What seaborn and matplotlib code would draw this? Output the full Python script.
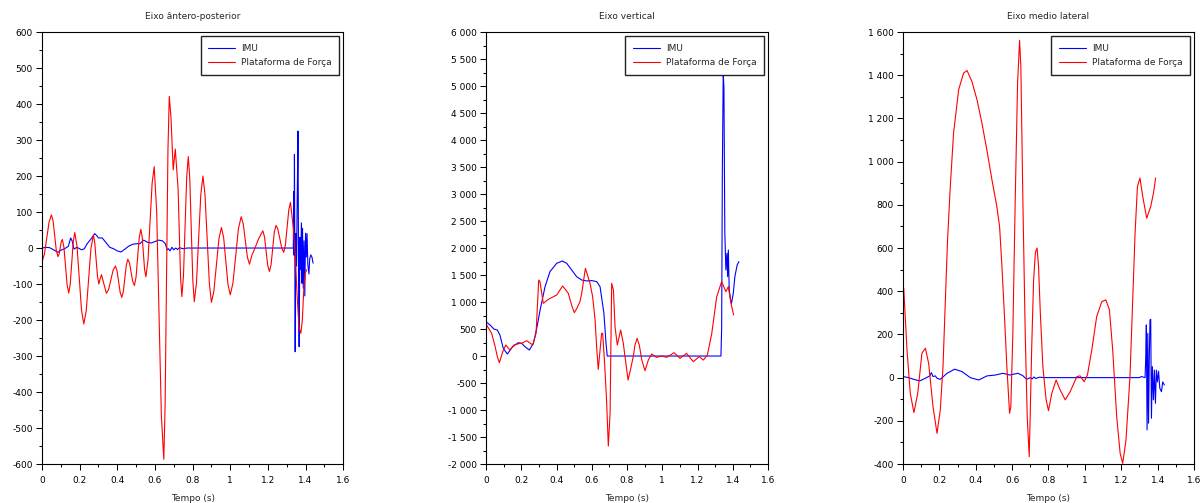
import numpy as np
import pandas as pd
import matplotlib
matplotlib.use("Agg")
import matplotlib.pyplot as plt
from matplotlib.ticker import MultipleLocator, FuncFormatter
import seaborn as sns

# ---------------- data ----------------
titles = ["Eixo ântero-posterior", "Eixo vertical", "Eixo medio lateral"]
series_names = ["IMU", "Plataforma de Força"]
xlabel = "Tempo (s)"

# Eixo antero-posterior
ap_force_t = [0.000, 0.0125, 0.025, 0.0375, 0.050, 0.059, 0.0675, 0.076, 0.085, 0.091, 0.0965, 0.102,
              0.108, 0.1165, 0.125, 0.1335, 0.142, 0.150, 0.158, 0.166, 0.174, 0.186, 0.198, 0.210,
              0.222, 0.235, 0.2475, 0.260, 0.273, 0.280, 0.2875, 0.295, 0.302, 0.309, 0.316, 0.329,
              0.342, 0.354, 0.366, 0.378, 0.390, 0.3985, 0.407, 0.4155, 0.424, 0.432, 0.440, 0.448,
              0.456, 0.465, 0.4735, 0.482, 0.491, 0.4995, 0.508, 0.5165, 0.525, 0.532, 0.5385, 0.545,
              0.552, 0.563, 0.574, 0.585, 0.596, 0.609, 0.6215, 0.634, 0.647, 0.654, 0.6615, 0.669,
              0.676, 0.685, 0.697, 0.708, 0.716, 0.723, 0.7295, 0.736, 0.743, 0.7515, 0.760, 0.7685,
              0.777, 0.785, 0.793, 0.801, 0.809, 0.8205, 0.832, 0.8435, 0.855, 0.866, 0.8775, 0.889,
              0.900, 0.913, 0.9265, 0.940, 0.953, 0.965, 0.9765, 0.988, 1.000, 1.0145, 1.029, 1.0435,
              1.058, 1.069, 1.080, 1.091, 1.102, 1.115, 1.133, 1.150, 1.173, 1.182, 1.1905, 1.199,
              1.208, 1.217, 1.2255, 1.234, 1.243, 1.253, 1.2635, 1.274, 1.284, 1.293, 1.302, 1.311,
              1.320, 1.336, 1.345, 1.355, 1.365, 1.375, 1.383, 1.390, 1.398, 1.407]
ap_force = [-38, -18, 27, 72, 92, 75, 34, -7, -24, -17, 0, 17,
            24, 2, -50, -103, -125, -100, -41, 18, 43, 5, -84, -173,
            -211, -174, -87, -1, 36, 16, -32, -80, -100, -85, -74, -100,
            -126, -115, -88, -61, -50, -63, -93, -124, -137, -121, -84, -47,
            -31, -42, -68, -93, -104, -81, -26, 29, 52, 32, -14, -60,
            -80, -34, 73, 180, 226, 104, -180, -465, -587, -436, -83, 270,
            421, 365, 217, 275, 217, 164, 41, -82, -135, -77, 60, 196,
            254, 194, 53, -89, -149, -97, 26, 148, 200, 147, 25, -98,
            -151, -120, -47, 26, 57, 29, -37, -102, -130, -97, -22, 54,
            87, 67, 21, -25, -45, -20, 2, 25, 48, 31, -8, -48,
            -65, -46, -1, 44, 63, 52, 25, -1, -12, 9, 58, 106,
            127, 50, -20, -130, -220, -237, -200, -120, -70, -60]

ap_imu_t = [0.000, 0.020, 0.040, 0.055, 0.085, 0.100, 0.120, 0.140, 0.152, 0.160, 0.170, 0.185,
            0.200, 0.210, 0.225, 0.240, 0.260, 0.280, 0.290, 0.300, 0.320, 0.340, 0.360, 0.380,
            0.400, 0.420, 0.440, 0.460, 0.480, 0.500, 0.520, 0.540, 0.560, 0.580, 0.600, 0.620,
            0.640, 0.655, 0.665, 0.672, 0.680, 0.690, 0.700, 0.710, 0.720, 0.730, 0.750, 0.770,
            0.850, 1.335, 1.337, 1.339, 1.341, 1.343, 1.345, 1.348, 1.352, 1.356, 1.360, 1.363,
            1.366, 1.370, 1.374, 1.378, 1.381, 1.384, 1.388, 1.392, 1.396, 1.400, 1.404, 1.408,
            1.412, 1.418, 1.422, 1.428, 1.434, 1.440]
ap_imu = [0, 2, 1, -3, -12, -6, -2, 5, 28, 20, -3, 2,
          -2, -5, -2, 12, 25, 40, 35, 28, 28, 15, 2, -2,
          -8, -11, -3, 5, 10, 12, 12, 22, 16, 14, 18, 22,
          20, 12, -5, -2, -8, 2, -5, 0, -4, 1, -2, 0,
          0, 0, 157, -20, 260, -10, -288, 40, -50, 150, 325, -100,
          -274, 30, -60, 70, -98, 55, -112, 20, -133, 41, -25, 40,
          -45, -72, -30, -19, -25, -42]

# Eixo vertical
v_force_t = [0.000, 0.032, 0.050, 0.065, 0.076, 0.095, 0.112, 0.136, 0.159, 0.193, 0.202, 0.231,
             0.265, 0.284, 0.299, 0.306, 0.325, 0.354, 0.401, 0.435, 0.467, 0.485, 0.501, 0.515,
             0.533, 0.543, 0.564, 0.590, 0.605, 0.619, 0.628, 0.637, 0.656, 0.662, 0.673, 0.684,
             0.694, 0.704, 0.713, 0.723, 0.732, 0.745, 0.764, 0.779, 0.806, 0.820, 0.836, 0.845,
             0.857, 0.870, 0.884, 0.902, 0.921, 0.940, 0.968, 0.996, 1.025, 1.067, 1.101, 1.138,
             1.176, 1.210, 1.233, 1.256, 1.281, 1.309, 1.337, 1.361, 1.375, 1.390, 1.405]
v_force = [593, 420, 200, -20, -124, 80, 204, 111, 204, 235, 235, 284,
           204, 420, 1408, 1380, 976, 1050, 1130, 1297, 1161, 950, 803, 880,
           1007, 1161, 1624, 1347, 1100, 667, 150, -247, 420, 420, -136, -815,
           -1668, -1062, 1347, 1223, 544, 204, 482, 235, -445, -250, 0, 200,
           327, 200, -74, -272, -74, 37, -25, 0, -25, 62, -43, 49,
           -105, -12, -74, 19, 420, 1100, 1378, 1192, 1285, 976, 760]

v_imu_t = [0.000, 0.023, 0.045, 0.064, 0.079, 0.098, 0.121, 0.151, 0.183, 0.202, 0.221, 0.246,
           0.269, 0.288, 0.307, 0.335, 0.363, 0.401, 0.433, 0.458, 0.486, 0.514, 0.543, 0.571,
           0.600, 0.628, 0.647, 0.669, 0.681, 0.688, 0.800, 1.333, 1.337, 1.341, 1.346, 1.350,
           1.355, 1.361, 1.367, 1.371, 1.375, 1.380, 1.388, 1.393, 1.403, 1.412, 1.425, 1.435]
v_imu = [636, 574, 500, 482, 389, 142, 37, 173, 247, 235, 173, 111,
         235, 513, 852, 1285, 1563, 1717, 1760, 1717, 1594, 1470, 1408, 1390,
         1397, 1378, 1285, 791, 235, 0, 0, 0, 513, 3416, 5250, 4960,
         2273, 1594, 1902, 1470, 1964, 1223, 1038, 976, 1161, 1470, 1686, 1748]

# Eixo medio lateral
ml_force_t = [0.004, 0.022, 0.040, 0.060, 0.081, 0.104, 0.123, 0.141, 0.165, 0.187, 0.205, 0.220,
              0.233, 0.245, 0.260, 0.278, 0.306, 0.333, 0.352, 0.379, 0.407, 0.434, 0.461, 0.489,
              0.516, 0.531, 0.544, 0.558, 0.571, 0.586, 0.593, 0.604, 0.617, 0.630, 0.641, 0.648,
              0.659, 0.672, 0.683, 0.694, 0.700, 0.708, 0.718, 0.728, 0.737, 0.745, 0.755, 0.769,
              0.787, 0.800, 0.818, 0.842, 0.864, 0.892, 0.919, 0.956, 0.974, 0.996, 1.014, 1.038,
              1.065, 1.093, 1.115, 1.135, 1.153, 1.175, 1.194, 1.208, 1.226, 1.248, 1.263, 1.276,
              1.289, 1.303, 1.318, 1.340, 1.362, 1.377, 1.389]
ml_force = [414, 128, -73, -162, -73, 113, 136, 66, -134, -258, -150, 51,
            360, 638, 885, 1132, 1333, 1410, 1422, 1371, 1286, 1178, 1055, 916,
            792, 700, 514, 283, 51, -165, -134, 205, 823, 1364, 1561, 1441,
            823, 205, -181, -366, -150, 150, 450, 580, 600, 520, 300, 51,
            -103, -153, -73, -11, -57, -103, -65, 5, 8, -19, 12, 128,
            283, 352, 360, 314, 128, -181, -351, -397, -289, 5, 360, 669,
            885, 924, 839, 738, 792, 854, 924]

ml_imu_t = [0.000, 0.031, 0.059, 0.092, 0.123, 0.147, 0.156, 0.165, 0.178, 0.187, 0.205, 0.242,
            0.284, 0.324, 0.370, 0.416, 0.462, 0.508, 0.550, 0.586, 0.633, 0.660, 0.680, 0.700,
            0.710, 0.720, 0.730, 0.750, 0.780, 1.300, 1.310, 1.331, 1.335, 1.338, 1.342, 1.346,
            1.350, 1.354, 1.358, 1.362, 1.366, 1.371, 1.377, 1.382, 1.388, 1.393, 1.399, 1.405,
            1.412, 1.421, 1.428, 1.437]
ml_imu = [5, 0, -8, -15, -3, 8, 23, 5, 8, -3, -8, 20,
          39, 28, 0, -11, 8, 12, 20, 12, 20, 8, -8, 0,
          -6, 3, -4, 2, 0, 0, 5, 0, 105, 244, -242, 205,
          -211, 80, 267, 270, -188, 51, -103, 35, -119, 35, -20, 30,
          -49, -65, -20, -34]

ylims = [(-600, 600), (-2000, 6000), (-400, 1600)]
ymajor = [100, 500, 200]
yminor = [50, 250, 100]

# ---------------- styling ----------------
sns.set_style("white")
plt.rcParams["font.family"] = ["DejaVu Sans"]
FS = 6.5

fig = plt.figure(figsize=(12, 5.03), dpi=100)
positions = [[0.035, 0.0775, 0.251, 0.8588],
             [0.405, 0.0775, 0.235, 0.8588],
             [0.7525, 0.0775, 0.2425, 0.8588]]

panels = [(ap_imu_t, ap_imu, ap_force_t, ap_force),
          (v_imu_t, v_imu, v_force_t, v_force),
          (ml_imu_t, ml_imu, ml_force_t, ml_force)]

yfmt = FuncFormatter(lambda v, p: f"{v:,.0f}".replace(",", " "))
xfmt = FuncFormatter(lambda v, p: f"{v:g}")

for i, (it, iv, ft, fv) in enumerate(panels):
    ax = fig.add_axes(positions[i])
    sns.lineplot(x=it, y=iv, ax=ax, color="#0000ff", lw=0.8, label=series_names[0],
                 estimator=None, sort=False)
    sns.lineplot(x=ft, y=fv, ax=ax, color="#ff0000", lw=0.8, label=series_names[1],
                 estimator=None, sort=False)
    ax.set_xlim(0, 1.6)
    ax.set_ylim(*ylims[i])
    ax.xaxis.set_major_locator(MultipleLocator(0.2))
    ax.xaxis.set_minor_locator(MultipleLocator(0.1))
    ax.yaxis.set_major_locator(MultipleLocator(ymajor[i]))
    ax.yaxis.set_minor_locator(MultipleLocator(yminor[i]))
    ax.xaxis.set_major_formatter(xfmt)
    ax.yaxis.set_major_formatter(yfmt)
    ax.tick_params(which="major", direction="out", length=4.0, width=0.75,
                   labelsize=FS, colors="black", bottom=True, left=True)
    ax.tick_params(axis="x", which="major", pad=4.5)
    ax.tick_params(axis="y", which="major", pad=2.5)
    ax.tick_params(which="minor", direction="out", length=2.2, width=0.75,
                   bottom=True, left=True, colors="black")
    for sp in ax.spines.values():
        sp.set_color("black")
        sp.set_linewidth(0.8)
    ax.set_title(titles[i], fontsize=FS, pad=9.5)
    ax.set_xlabel(xlabel, fontsize=FS, labelpad=6.5)
    ax.set_ylabel("")
    leg = ax.legend(loc="upper right", fontsize=FS, frameon=True, fancybox=False,
                    framealpha=1, edgecolor="#222222", borderaxespad=0.45,
                    borderpad=0.85, labelspacing=0.6, handlelength=3.0,
                    handletextpad=0.6)
    leg.get_frame().set_linewidth(1.0)

fig.savefig("out.png", dpi=100)
